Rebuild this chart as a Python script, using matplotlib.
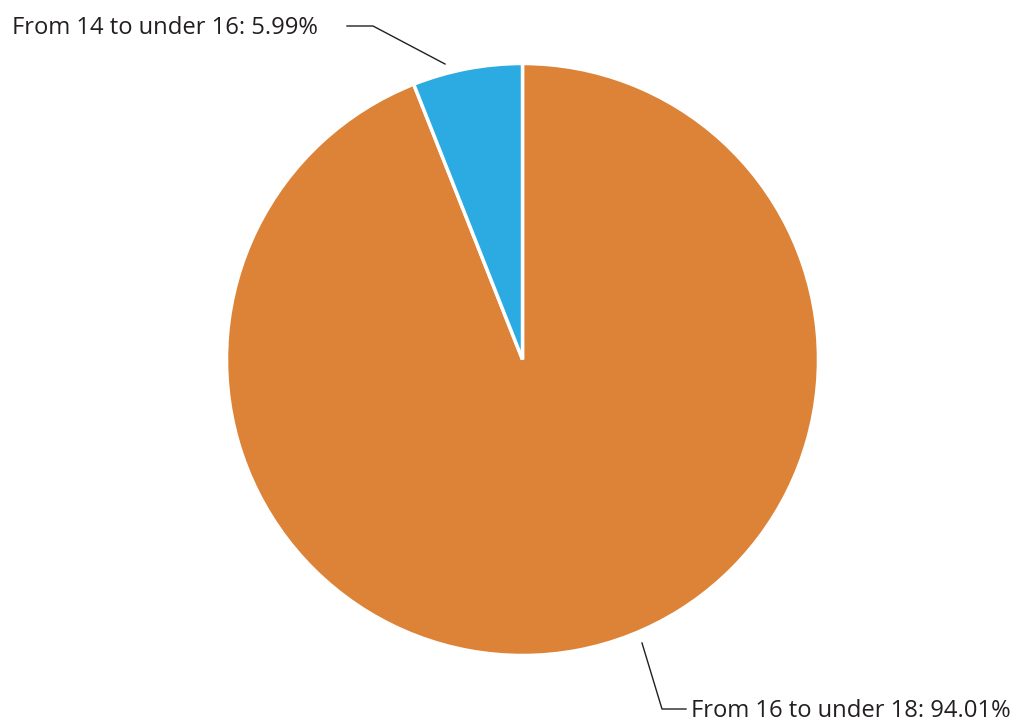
import numpy as np
import matplotlib.pyplot as plt

labels = ['From 16 to under 18', 'From 14 to under 16']
shares = [94.01, 5.99]
colors = ['#DD8337', '#2BABE2']

W, H = 1015, 723
fig = plt.figure(figsize=(W / 100, H / 100), dpi=100)
ax = fig.add_axes([0, 0, 1, 1])

cx, cy, r = 522.5, H - 359.5, 296
ax.pie(shares, colors=colors, startangle=90, counterclock=False,
       center=(cx, cy), radius=r, frame=True,
       wedgeprops=dict(edgecolor='white', linewidth=2.5))
ax.set_xlim(0, W)
ax.set_ylim(0, H)
ax.set_aspect('equal')
ax.axis('off')

font = dict(family='Open Sans', fontsize=17.1, color='#231F20')

# label for the small slice (top left)
t1 = f'{labels[1]}: {shares[1]:.2f}%'
ax.plot([445, 373, 347], [H - 64, H - 26, H - 26], color='#231F20', lw=1)
ax.text(12, H - 28, t1, ha='left', va='center', **font)

# label for the big slice (bottom right)
t0 = f'{labels[0]}: {shares[0]:.2f}%'
ax.plot([642, 662, 686], [H - 643, H - 709, H - 709], color='#231F20', lw=1)
ax.text(691, H - 711, t0, ha='left', va='center', **font)

fig.savefig('out.png', dpi=100)
